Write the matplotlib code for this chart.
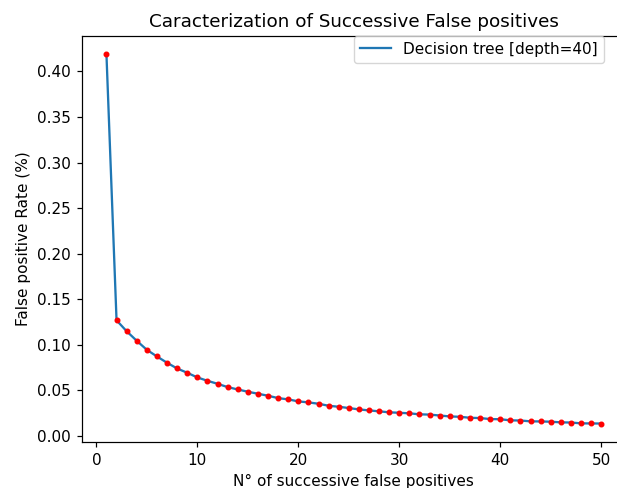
import matplotlib
matplotlib.use("Agg")
import matplotlib.pyplot as plt

n_successive = list(range(1, 51))
fp_rate = [0.419, 0.127, 0.115, 0.1045, 0.0946, 0.0873, 0.0804, 0.0741, 0.0694, 0.0643,
           0.0606, 0.0573, 0.0537, 0.0511, 0.0486, 0.0464, 0.0442, 0.0416, 0.0402, 0.0380,
           0.0369, 0.0354, 0.0332, 0.0321, 0.0307, 0.0292, 0.0281, 0.0271, 0.0260, 0.0255,
           0.0249, 0.0238, 0.0235, 0.0225, 0.0215, 0.0211, 0.0200, 0.0197, 0.0186, 0.0184,
           0.0172, 0.0170, 0.0161, 0.0160, 0.0157, 0.0150, 0.0148, 0.0139, 0.0138, 0.0137]

series_label = "Decision tree [depth=40]"
title = "Caracterization of Successive False positives"
xlabel = "N° of successive false positives"
ylabel = "False positive Rate (%)"

s = 1.1
plt.rcParams.update({
    "font.size": 10 * s,
    "axes.titlesize": 12 * s,
    "axes.labelsize": 10 * s,
    "xtick.labelsize": 10 * s,
    "ytick.labelsize": 10 * s,
    "legend.fontsize": 10 * s,
    "lines.linewidth": 1.5 * s,
    "axes.linewidth": 0.8 * s,
    "xtick.major.width": 0.8 * s,
    "ytick.major.width": 0.8 * s,
    "xtick.major.size": 3.5 * s,
    "ytick.major.size": 3.5 * s,
    "xtick.major.pad": 3.5 * s,
    "ytick.major.pad": 3.5 * s,
    "lines.markersize": 6 * s,
})

fig = plt.figure(figsize=(6.17, 4.88), dpi=100)
ax = fig.add_axes([81.7/617, (488-442)/488, (626-81.7)/617, (442-35.7)/488])
ax.plot(n_successive, fp_rate, color="C0", label=series_label)
ax.plot(n_successive, fp_rate, "r.")
ax.set_title(title, pad=6 * s)
ax.set_xlabel(xlabel, labelpad=4 * s)
ax.set_ylabel(ylabel, labelpad=4 * s)
ax.set_xticks([0, 10, 20, 30, 40, 50])
ax.set_yticks([0.0, 0.05, 0.10, 0.15, 0.20, 0.25, 0.30, 0.35, 0.40])
ax.legend(loc="upper right", bbox_to_anchor=((604-81.7)/(626-81.7), 1.0), borderaxespad=0)
fig.savefig("out.png", dpi=100)
